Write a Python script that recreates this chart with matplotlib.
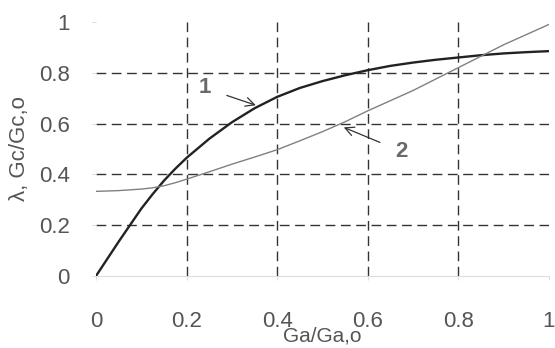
import matplotlib
matplotlib.use('Agg')
import matplotlib.pyplot as plt

# Values
ratio_a = [0.0, 0.05, 0.1, 0.125, 0.15, 0.175, 0.2, 0.25, 0.3, 0.35, 0.4, 0.45, 0.5,
           0.55, 0.6, 0.65, 0.7, 0.75, 0.8, 0.85, 0.9, 0.95, 1.0]
curve1 = [0.0, 0.135, 0.265, 0.322, 0.375, 0.422, 0.465, 0.54, 0.605, 0.66, 0.705, 0.74, 0.767,
          0.79, 0.81, 0.827, 0.84, 0.851, 0.86, 0.869, 0.876, 0.881, 0.885]
curve2 = [0.333, 0.336, 0.342, 0.347, 0.355, 0.367, 0.381, 0.41, 0.44, 0.468, 0.497, 0.532, 0.568,
          0.607, 0.65, 0.69, 0.73, 0.775, 0.82, 0.865, 0.91, 0.95, 0.99]
ticks = [0, 0.2, 0.4, 0.6, 0.8, 1]
tick_labels = ['0', '0.2', '0.4', '0.6', '0.8', '1']

plt.rcParams['font.family'] = ['Liberation Sans', 'DejaVu Sans']
text_col = '#555555'

fig = plt.figure(figsize=(5.55, 3.48), dpi=100)
ax = fig.add_axes([0.173, 0.207, 0.816, 0.73])

# dashed grid
for v in ticks[1:-1]:
    ax.axvline(v, color='#333333', lw=1.0, ls=(0, (7, 4)), zorder=1)
    ax.axhline(v, color='#333333', lw=1.0, ls=(0, (7, 4)), zorder=1)

ax.plot(ratio_a, curve1, color='#222222', lw=1.7, zorder=3)
ax.plot(ratio_a, curve2, color='#808080', lw=1.0, zorder=3)

# curve labels with leader arrows
ax.annotate('1', xy=(0.353, 0.672), xytext=(0.24, 0.74), fontsize=16, fontweight='bold',
            color='#6a6a6a', ha='center', va='center',
            arrowprops=dict(arrowstyle='->', color='#333333', lw=0.9, shrinkA=10, shrinkB=0))
ax.annotate('2', xy=(0.547, 0.585), xytext=(0.675, 0.49), fontsize=16, fontweight='bold',
            color='#6a6a6a', ha='center', va='center',
            arrowprops=dict(arrowstyle='->', color='#333333', lw=0.9, shrinkA=10, shrinkB=0))

ax.set_xlim(0, 1)
ax.set_ylim(0, 1)
ax.set_xticks(ticks)
ax.set_xticklabels(tick_labels)
ax.set_yticks(ticks)
ax.set_yticklabels(tick_labels)
for s in ['top', 'right', 'left']:
    ax.spines[s].set_visible(False)
ax.spines['bottom'].set_color('#dddddd')
ax.tick_params(axis='x', length=3, color='#dddddd', labelsize=16, labelcolor=text_col, pad=22)
ax.tick_params(axis='y', length=3, color='#dddddd', labelsize=16, labelcolor=text_col, pad=16)

ax.set_xlabel('Ga/Ga,o', fontsize=15, color=text_col)
ax.xaxis.set_label_coords(0.5, -0.2)
ax.xaxis.label.set_va('top')
ax.set_ylabel('λ, Gc/Gc,o', fontsize=16, color=text_col, labelpad=6)

fig.savefig('out.png', dpi=100)
